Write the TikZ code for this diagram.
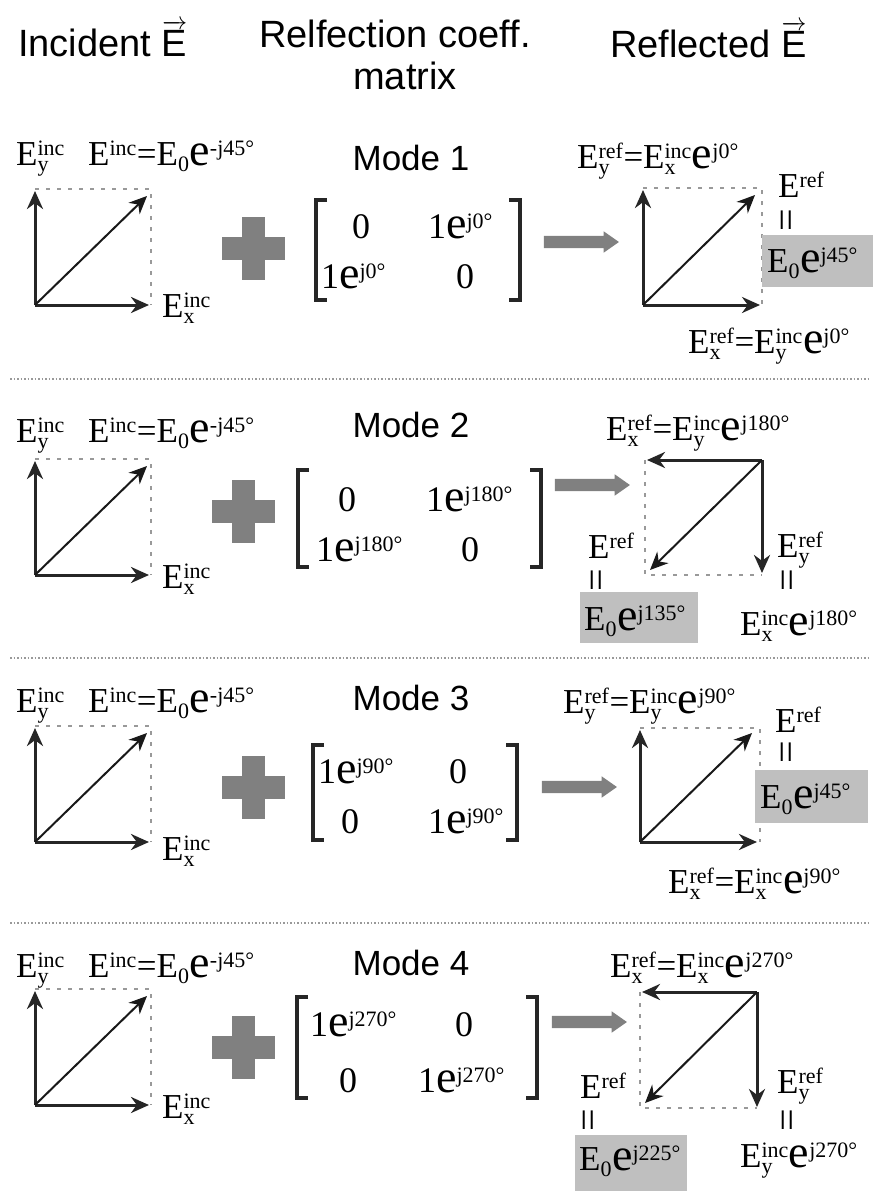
\documentclass[tikz,border=0pt]{standalone}
\usepackage{fontspec}
\usepackage{amsmath}
\setmainfont{Liberation Serif}
\setsansfont{Liberation Sans}
\usetikzlibrary{arrows.meta,shapes.arrows}
\DeclareMathSizes{35}{35}{22}{16}
\DeclareMathSizes{36}{36}{22}{16}
\DeclareMathSizes{38}{38}{26}{18}
\newcommand\Ev[2]{E\ensuremath{^{\text{#1}}_{\text{#2}}}}
\newcommand\Eu[1]{E\ensuremath{^{\text{#1}}}}
\newcommand\Ezero{E\ensuremath{_{\text{0}}}}
\newcommand\ee[1]{{\fontsize{46}{46}\selectfont e}\ensuremath{^{\text{#1}}}}
\newcommand\ovE{\ensuremath{\overrightarrow{\text{E}}}}
\newcommand\incdiag[5]{%
  \coordinate (#1o) at (#2,#3);
  \coordinate (#1ty) at (#2,#3-114);
  \coordinate (#1tx) at (#2+114,#3);
  \coordinate (#1td) at (#2+112,#3-109);
  \coordinate (#1ct) at (#2,#3-116);
  \coordinate (#1c) at (#2+116,#3-116);
  \coordinate (#1cb) at (#2+116,#3);
  \draw[guide] (#1ct) -- (#1c) -- (#1cb);
  \draw[vec] (#1o) -- (#1ty);
  \draw[vec] (#1o) -- (#1tx);
  \draw[diag] (#1o) -- (#1td);
  \node[lab, anchor=base west] (#1ey) at (16,#4) {\Ev{inc}{y}};
  \node[lab, anchor=base west] (#1eq) at (88,#4) {\Eu{inc}=\Ezero\ee{-j45°}};
  \node[lab, anchor=base west] (#1ex) at (#2+127,#3+#5) {\Ev{inc}{x}};
}
\newcommand\bracketpair[4]{% left x, right x, top y, bottom y
  \draw[brk] (#1+11,#3) -- (#1,#3) -- (#1,#4) -- (#1+11,#4);
  \draw[brk] (#2-11,#3) -- (#2,#3) -- (#2,#4) -- (#2-11,#4);
}
\newcommand\plusat[3]{%
  \node[plusbar, minimum width=63pt, minimum height=23pt] (#1h) at (#2,#3) {};
  \node[plusbar, minimum width=23pt, minimum height=63pt] (#1v) at (#2,#3) {};
}
\begin{document}
\begin{tikzpicture}[x=1pt,y=-1pt,
  lab/.style={font=\fontsize{35}{37}\selectfont, inner sep=0pt},
  ent/.style={font=\fontsize{36}{38}\selectfont, inner sep=0pt},
  title/.style={font=\sffamily\fontsize{38}{42}\selectfont, inner sep=0pt},
  modet/.style={font=\sffamily\fontsize{35}{38}\selectfont, inner sep=0pt},
  vec/.style={line width=3pt, black!85, -{Stealth[length=18pt,width=16pt]}},
  diag/.style={line width=2pt, black!90, -{Stealth[length=18pt,width=16pt]}},
  guide/.style={black!40, line width=1.2pt, dash pattern=on 4pt off 7pt},
  sep/.style={black!40, line width=1.8pt, dash pattern=on 1.5pt off 2pt},
  brk/.style={line width=3.5pt, black!85},
  plusbar/.style={fill=black!50, draw=none, inner sep=0pt},
  garrow/.style={single arrow, fill=black!50, draw=none, inner sep=6pt,
    minimum height=75pt, single arrow head extend=4.5pt,
    single arrow tip angle=70, single arrow head indent=0pt},
  gbox/.style={fill=black!25, draw=none, inner sep=0pt, anchor=north west},
  veq/.style={font=\fontsize{40}{40}\selectfont, inner sep=0pt, rotate=90},
]
\useasboundingbox (0,0) rectangle (877,1191);
\fill[white] (0,0) rectangle (877,1191);

% header
\node[title, anchor=base west] (hinc) at (18,56) {Incident \ovE};
\node[title] (hrc) at (395,34) {Relfection coeff.};
\node[title] (hmat) at (405,76) {matrix};
\node[title, anchor=base west] (href) at (610,57) {Reflected \ovE};

% separators
\coordinate (s1a) at (10,379); \coordinate (s1b) at (870,379);
\coordinate (s2a) at (10,658); \coordinate (s2b) at (870,658);
\coordinate (s3a) at (10,923); \coordinate (s3b) at (870,923);
\draw[sep] (s1a) -- (s1b);
\draw[sep] (s2a) -- (s2b);
\draw[sep] (s3a) -- (s3b);

% ================= Mode 1 =================
\incdiag{a}{35}{305}{165}{12}
\plusat{ap}{253}{248}
\node[modet] (m1) at (411,158) {Mode 1};
\bracketpair{316}{520}{200}{300}
\node[ent, anchor=base] (a11) at (361,238) {0};
\node[ent, anchor=base west] (a12) at (428,238) {1\ee{j0°}};
\node[ent, anchor=base west] (a21) at (321,288) {1\ee{j0°}};
\node[ent, anchor=base] (a22) at (465,288) {0};
\node[garrow] (ag) at (577,242) {};
% reflected
\coordinate (ro) at (643,305);
\coordinate (rty) at (643,190);
\coordinate (rtx) at (760,305);
\coordinate (rtd) at (755,195);
\coordinate (rct) at (643,188);
\coordinate (rc) at (762,188);
\coordinate (rcb) at (762,305);
\draw[guide] (rct) -- (rc) -- (rcb);
\draw[vec] (ro) -- (rty);
\draw[vec] (ro) -- (rtx);
\draw[diag] (ro) -- (rtd);
\node[lab, anchor=base west] (r1t) at (577,168) {\Ev{ref}{y}=\Ev{inc}{x}\ee{j0°}};
\node[lab, anchor=base west] (r1e) at (778,197) {\Eu{ref}};
\node[veq] (r1q) at (790,220) {=};
\node[gbox, minimum width=111pt, minimum height=52pt] (r1box) at (762,235) {};
\node[lab, anchor=base west] (r1v) at (767,272) {\Ezero\ee{j45°}};
\node[lab, anchor=base west] (r1b) at (688,353) {\Ev{ref}{x}=\Ev{inc}{y}\ee{j0°}};

% ================= Mode 2 =================
\incdiag{b}{35}{575}{442}{13}
\plusat{bp}{243}{511}
\node[modet] (m2) at (411,425) {Mode 2};
\bracketpair{298}{541}{470}{567}
\node[ent, anchor=base] (b11) at (347,511) {0};
\node[ent, anchor=base west] (b12) at (426,511) {1\ee{j180°}};
\node[ent, anchor=base west] (b21) at (316,561) {1\ee{j180°}};
\node[ent, anchor=base] (b22) at (470,561) {0};
\node[garrow] (bg) at (588,485) {};
\coordinate (sc) at (762,460);
\coordinate (stl) at (647,460);
\coordinate (std) at (762,573);
\coordinate (stg) at (650,570);
\coordinate (sl) at (645,460);
\coordinate (slb) at (645,575);
\coordinate (sb) at (762,575);
\draw[guide] (sl) -- (slb) -- (sb);
\draw[vec] (sc) -- (stl);
\draw[vec] (sc) -- (std);
\draw[diag] (sc) -- (stg);
\node[lab, anchor=base west] (r2t) at (606,440) {\Ev{ref}{x}=\Ev{inc}{y}\ee{j180°}};
\node[lab, anchor=base west] (r2e) at (588,558) {\Eu{ref}};
\node[veq] (r2q) at (600,580) {=};
\node[gbox, minimum width=118pt, minimum height=51pt] (r2box) at (580,592) {};
\node[lab, anchor=base west] (r2v) at (584,630) {\Ezero\ee{j135°}};
\node[lab, anchor=base west] (r2y) at (777,557) {\Ev{ref}{y}};
\node[veq] (r2q2) at (791,580) {=};
\node[lab, anchor=base west] (r2b) at (740,635) {\Ev{inc}{x}\ee{j180°}};

% ================= Mode 3 =================
\incdiag{c}{35}{842}{712}{18}
\plusat{cp}{253}{787}
\node[modet] (m3) at (411,698) {Mode 3};
\bracketpair{313}{517}{745}{840}
\node[ent, anchor=base west] (c11) at (318,783) {1\ee{j90°}};
\node[ent, anchor=base] (c12) at (458,783) {0};
\node[ent, anchor=base] (c21) at (350,833) {0};
\node[ent, anchor=base west] (c22) at (428,833) {1\ee{j90°}};
\node[garrow] (cg) at (575,787) {};
\coordinate (to) at (640,842);
\coordinate (tty) at (640,730);
\coordinate (ttx) at (757,842);
\coordinate (ttd) at (752,733);
\coordinate (tct) at (640,728);
\coordinate (tc) at (760,728);
\coordinate (tcb) at (760,842);
\draw[guide] (tct) -- (tc) -- (tcb);
\draw[vec] (to) -- (tty);
\draw[vec] (to) -- (ttx);
\draw[diag] (to) -- (ttd);
\node[lab, anchor=base west] (r3t) at (563,713) {\Ev{ref}{y}=\Ev{inc}{y}\ee{j90°}};
\node[lab, anchor=base west] (r3e) at (775,732) {\Eu{ref}};
\node[veq] (r3q) at (790,752) {=};
\node[gbox, minimum width=113pt, minimum height=53pt] (r3box) at (755,770) {};
\node[lab, anchor=base west] (r3v) at (760,808) {\Ezero\ee{j45°}};
\node[lab, anchor=base west] (r3b) at (668,893) {\Ev{ref}{x}=\Ev{inc}{x}\ee{j90°}};

% ================= Mode 4 =================
\incdiag{d}{35}{1105}{977}{13}
\plusat{dp}{243}{1047}
\node[modet] (m4) at (411,963) {Mode 4};
\bracketpair{297}{537}{997}{1098}
\node[ent, anchor=base west] (d11) at (310,1036) {1\ee{j270°}};
\node[ent, anchor=base] (d12) at (464,1036) {0};
\node[ent, anchor=base] (d21) at (348,1092) {0};
\node[ent, anchor=base west] (d22) at (418,1092) {1\ee{j270°}};
\node[garrow] (dg) at (585,1022) {};
\coordinate (uc) at (757,992);
\coordinate (utl) at (642,992);
\coordinate (utd) at (757,1107);
\coordinate (utg) at (645,1103);
\coordinate (ul) at (640,992);
\coordinate (ulb) at (640,1108);
\coordinate (ub) at (757,1108);
\draw[guide] (ul) -- (ulb) -- (ub);
\draw[vec] (uc) -- (utl);
\draw[vec] (uc) -- (utd);
\draw[diag] (uc) -- (utg);
\node[lab, anchor=base west] (r4t) at (610,977) {\Ev{ref}{x}=\Ev{inc}{x}\ee{j270°}};
\node[lab, anchor=base west] (r4e) at (580,1098) {\Eu{ref}};
\node[veq] (r4q) at (592,1120) {=};
\node[gbox, minimum width=112pt, minimum height=56pt] (r4box) at (575,1135) {};
\node[lab, anchor=base west] (r4v) at (579,1170) {\Ezero\ee{j225°}};
\node[lab, anchor=base west] (r4y) at (777,1093) {\Ev{ref}{y}};
\node[veq] (r4q2) at (791,1120) {=};
\node[lab, anchor=base west] (r4b) at (740,1167) {\Ev{inc}{y}\ee{j270°}};
\end{tikzpicture}
\end{document}
